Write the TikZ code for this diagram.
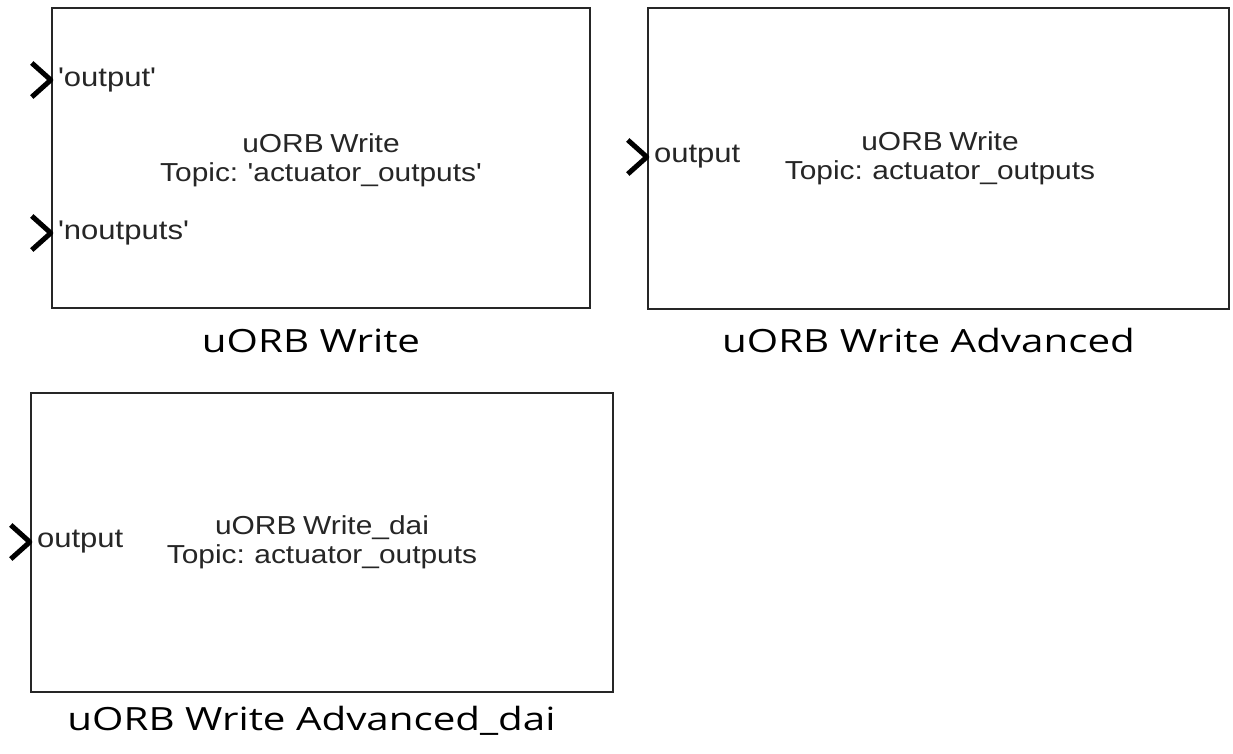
\documentclass[tikz,border=0pt]{standalone}
\usepackage{fontspec}
\usetikzlibrary{calc}
\newfontfamily\blkfont[FakeStretch=1.15,WordSpace=0.8]{Liberation Sans}
\newfontfamily\lblfont[FakeStretch=1.26]{Open Sans}
\tikzset{
  blockbox/.style={draw=black!85, line width=2.4pt, rectangle, inner sep=0pt},
  chev/.style={draw=black, line width=5pt, line join=round},
  blocktext/.style={font=\blkfont\fontsize{26}{29}\selectfont, align=center, text=black!85, inner sep=0pt},
  porttext/.style={font=\blkfont\fontsize{27}{29}\selectfont, text=black!85, anchor=west, inner sep=0pt},
  caption/.style={font=\lblfont\fontsize{32}{34}\selectfont, text=black, anchor=base, inner sep=0pt}
}
\begin{document}
\begin{tikzpicture}[x=1pt,y=-1pt]
\useasboundingbox[fill=white] (0,0) rectangle (1233,753);

% Block 1
\node[blockbox, minimum width=538pt, minimum height=300pt] (b1) at (321,158) {};
\node[blocktext] (t1) at (321,160) {uORB Write\\Topic: 'actuator\_outputs'};
\coordinate (p1a) at (b1.west |- 0,80);
\coordinate (p1b) at (b1.west |- 0,233);
\draw[chev] ($(p1a)+(-19,-17)$) -- (p1a) -- ($(p1a)+(-19,17)$);
\draw[chev] ($(p1b)+(-19,-17)$) -- (p1b) -- ($(p1b)+(-19,17)$);
\node[porttext] (l1a) at ($(p1a)+(7,0)$) {'output'};
\node[porttext] (l1b) at ($(p1b)+(7,0)$) {'noutputs'};
\node[caption] (c1) at (311,352) {uORB Write};

% Block 2
\node[blockbox, minimum width=581pt, minimum height=301pt] (b2) at (938.5,158.5) {};
\node[blocktext] (t2) at (940,158) {uORB Write\\Topic: actuator\_outputs};
\coordinate (p2a) at (b2.west |- 0,157);
\draw[chev] ($(p2a)+(-19,-17)$) -- (p2a) -- ($(p2a)+(-19,17)$);
\node[porttext] (l2a) at ($(p2a)+(7,0)$) {output};
\node[caption] (c2) at (928.5,352) {uORB Write Advanced};

% Block 3
\node[blockbox, minimum width=582pt, minimum height=299pt] (b3) at (322,542.5) {};
\node[blocktext] (t3) at (322,542) {uORB Write\_dai\\Topic: actuator\_outputs};
\coordinate (p3a) at (b3.west |- 0,542);
\draw[chev] ($(p3a)+(-19,-17)$) -- (p3a) -- ($(p3a)+(-19,17)$);
\node[porttext] (l3a) at ($(p3a)+(7,0)$) {output};
\node[caption] (c3) at (311.5,730) {uORB Write Advanced\_dai};
\end{tikzpicture}
\end{document}
